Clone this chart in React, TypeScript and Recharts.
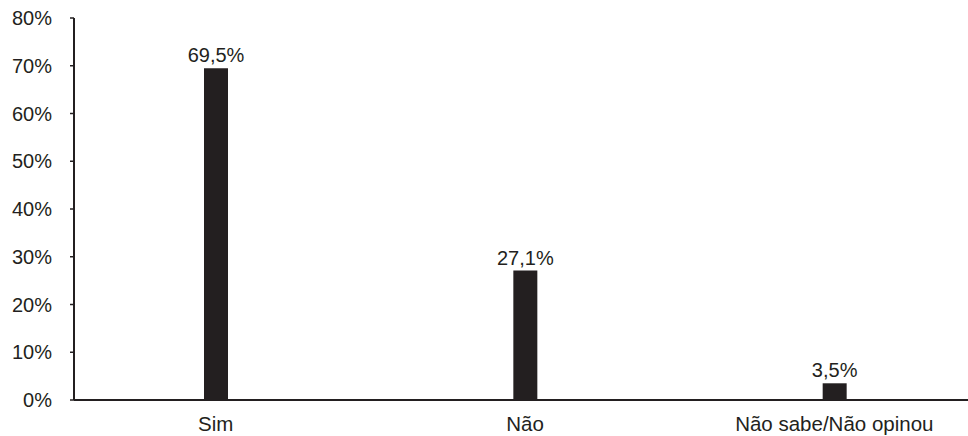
import { BarChart, Bar, XAxis, YAxis, LabelList } from "recharts";

const categories = ["Sim", "Não", "Não sabe/Não opinou"];
const values = [69.5, 27.1, 3.5];
const yTicks = [0, 10, 20, 30, 40, 50, 60, 70, 80];

const data = categories.map((name, i) => ({ name, value: values[i] }));

const ink = "#231f20";
const font = "'Liberation Sans', Arial, sans-serif";

const fmtValue = (v: number) => `${v.toFixed(1).replace(".", ",")}%`;

export default function App() {
  return (
    <div style={{ position: "absolute", left: 0, top: 0, background: "#fff" }}>
      <BarChart
        width={968}
        height={436}
        data={data}
        margin={{ top: 18, right: 0, bottom: 0, left: 0 }}
      >
        <XAxis
          dataKey="name"
          height={36}
          axisLine={{ stroke: ink, strokeWidth: 2 }}
          tickLine={false}
          tickMargin={10}
          padding={{ left: -13, right: -21 }}
          tick={{ fontSize: 20.5, fill: ink, fontFamily: font }}
        />
        <YAxis
          width={74}
          domain={[0, 80]}
          ticks={yTicks}
          interval={0}
          axisLine={{ stroke: ink, strokeWidth: 2 }}
          tickLine={{ stroke: ink, strokeWidth: 1.5 }}
          tickSize={4}
          tickMargin={18}
          tickFormatter={(v) => `${v}%`}
          tick={{ fontSize: 20, fill: ink, fontFamily: font }}
        />
        <Bar dataKey="value" fill={ink} barSize={24} isAnimationActive={false}>
          <LabelList
            dataKey="value"
            position="top"
            offset={6}
            formatter={(v: any) => fmtValue(Number(v))}
            style={{ fontSize: 20, fill: ink, fontFamily: font }}
          />
        </Bar>
      </BarChart>
    </div>
  );
}
